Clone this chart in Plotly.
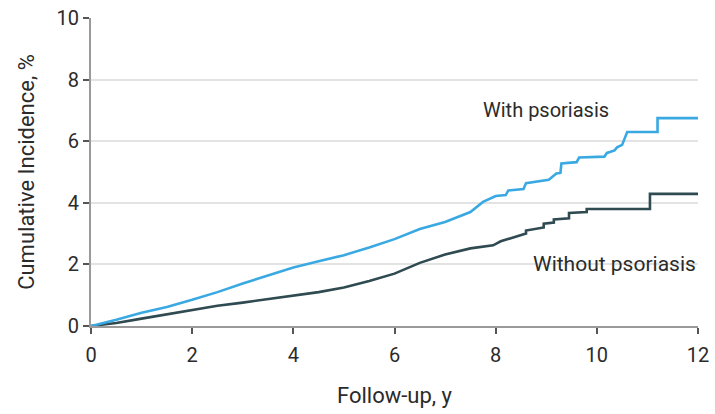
import plotly.graph_objects as go

# Cumulative incidence (%) by follow-up (years).
# Repeated x values mark the vertical jumps of the later steps.
with_years = [0, 0.5, 1, 1.5, 2, 2.5, 3, 3.5, 4, 4.5, 5, 5.5, 6, 6.5, 7, 7.5, 7.75,
              8.0, 8.2, 8.25, 8.55, 8.6, 9.05, 9.2, 9.28, 9.3, 9.6, 9.65, 10.15,
              10.2, 10.35, 10.4, 10.5, 10.6, 11.2, 11.2, 12]
with_inc = [0, 0.2, 0.43, 0.62, 0.85, 1.1, 1.38, 1.63, 1.9, 2.1, 2.3, 2.55, 2.82,
            3.15, 3.38, 3.7, 4.03,
            4.22, 4.25, 4.4, 4.45, 4.64, 4.75, 4.95, 4.97, 5.28, 5.32, 5.47, 5.5,
            5.62, 5.7, 5.8, 5.88, 6.3, 6.3, 6.75, 6.75]

without_years = [0, 0.5, 1, 1.5, 2, 2.5, 3, 3.5, 4, 4.5, 5, 5.5, 6, 6.5, 7, 7.5, 7.95,
                 8.1, 8.6, 8.6, 8.95, 8.95, 9.15, 9.15, 9.45, 9.45, 9.8, 9.8,
                 11.05, 11.05, 12]
without_inc = [0, 0.1, 0.24, 0.38, 0.53, 0.66, 0.76, 0.88, 1.0, 1.1, 1.25, 1.46, 1.7,
               2.05, 2.32, 2.52, 2.62,
               2.75, 3.0, 3.1, 3.2, 3.32, 3.36, 3.46, 3.5, 3.67, 3.7, 3.8,
               3.8, 4.29, 4.29]

x_ticks = [0, 2, 4, 6, 8, 10, 12]
y_ticks = [0, 2, 4, 6, 8, 10]

FONT = "Roboto"
TEXT = "#2b2b2b"

fig = go.Figure()
fig.add_trace(go.Scatter(x=without_years, y=without_inc, mode="lines",
                         line=dict(color="#2f4a50", width=2.6),
                         name="Without psoriasis"))
fig.add_trace(go.Scatter(x=with_years, y=with_inc, mode="lines",
                         line=dict(color="#3aa9e2", width=2.6),
                         name="With psoriasis"))

fig.add_annotation(x=9.0, y=7.0, text="With psoriasis", showarrow=False,
                   font=dict(family=FONT, size=20, color=TEXT), xanchor="center")
fig.add_annotation(x=10.35, y=2.0, text="Without psoriasis", showarrow=False,
                   font=dict(family=FONT, size=21, color=TEXT), xanchor="center")

fig.update_layout(
    width=715, height=414,
    margin=dict(l=91, r=17, t=18, b=88, autoexpand=False),
    paper_bgcolor="white", plot_bgcolor="white",
    showlegend=False,
    font=dict(family=FONT, size=20, color=TEXT),
)
fig.update_xaxes(range=[0, 12], tickvals=x_ticks, showgrid=False, zeroline=False,
                 automargin=False,
                 showline=True, linecolor="#9a9a9a", linewidth=2,
                 ticks="outside", ticklen=6, tickcolor="#555", tickwidth=1.5,
                 ticklabelstandoff=4,
                 tickfont=dict(size=20, color=TEXT),
                 title=dict(text="Follow-up, y", font=dict(size=22, color=TEXT), standoff=22))
fig.update_yaxes(range=[0, 10], tickvals=y_ticks, showgrid=True, gridcolor="#e3e3e3",
                 gridwidth=1.5, zeroline=False,
                 automargin=False,
                 showline=True, linecolor="#9a9a9a", linewidth=2,
                 ticks="outside", ticklen=6, tickcolor="#555", tickwidth=1.5,
                 tickfont=dict(size=20, color=TEXT),
                 title=dict(text="Cumulative Incidence, %", font=dict(size=22, color=TEXT), standoff=16))

fig.write_html("out.html")
